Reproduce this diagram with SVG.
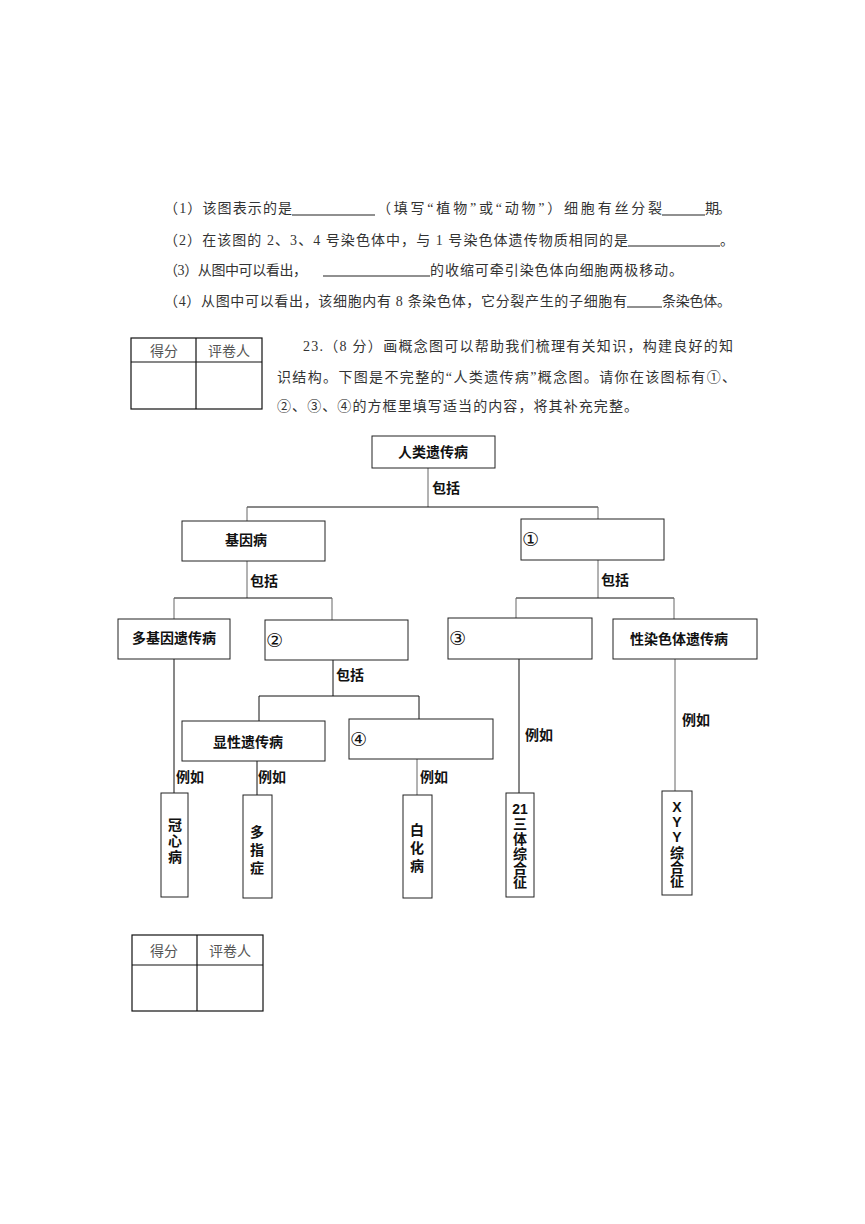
<svg xmlns="http://www.w3.org/2000/svg" width="865" height="1224" viewBox="0 0 865 1224">
<style>
.q{font-family:"Liberation Serif","Noto Sans CJK SC",serif;font-size:14px;fill:#333}
.t{font-family:"Liberation Serif","Noto Sans CJK SC",serif;font-size:14px;fill:#555;text-anchor:middle}
.n{font-family:"Liberation Sans","Noto Sans CJK SC",sans-serif;font-size:14px;font-weight:bold;fill:#111}
.num{font-family:"DejaVu Sans","Noto Sans CJK SC",sans-serif;font-size:19px;fill:#111}
.c{text-anchor:middle}
.box{fill:#fff;stroke:#222;stroke-width:1}
.tab{fill:none;stroke:#111;stroke-width:1.2}
.ul{stroke:#222;stroke-width:1.2}
.h{stroke:#111;stroke-width:1;fill:none}
.v{stroke:#666;stroke-width:1;fill:none}
</style>
<rect width="865" height="1224" fill="#fff"/>

<g id="questions">
<text class="q" x="164" y="213" textLength="128">（1）该图表示的是</text>
<line class="ul" x1="292" y1="215" x2="375" y2="215"/>
<text class="q" x="377" y="213" textLength="285">（填写“植物”或“动物”）细胞有丝分裂</text>
<line class="ul" x1="662" y1="215" x2="705" y2="215"/>
<text class="q" x="705" y="213" textLength="26">期。</text>

<text class="q" x="164" y="245" textLength="464">（2）在该图的 2、3、4 号染色体中，与 1 号染色体遗传物质相同的是</text>
<line class="ul" x1="628" y1="246" x2="720" y2="246"/>
<text class="q" x="720" y="245">。</text>

<text class="q" x="164" y="275" textLength="143">（3）从图中可以看出，</text>
<line class="ul" x1="323" y1="276" x2="430" y2="276"/>
<text class="q" x="430" y="275" textLength="253">的收缩可牵引染色体向细胞两极移动。</text>

<text class="q" x="164" y="306" textLength="463">（4）从图中可以看出，该细胞内有 8 条染色体，它分裂产生的子细胞有</text>
<line class="ul" x1="627" y1="307" x2="662" y2="307"/>
<text class="q" x="662" y="306" textLength="69">条染色体。</text>

<text class="q" x="303" y="351" textLength="430">23.（8 分）画概念图可以帮助我们梳理有关知识，构建良好的知</text>
<text class="q" x="277" y="382" textLength="459">识结构。下图是不完整的“人类遗传病”概念图。请你在该图标有①、</text>
<text class="q" x="277" y="411" textLength="361">②、③、④的方框里填写适当的内容，将其补充完整。</text>
</g>

<g id="score-table-1">
<rect class="tab" x="131" y="338" width="131" height="71"/>
<line class="tab" x1="196" y1="338" x2="196" y2="409"/>
<line class="tab" x1="131" y1="362" x2="262" y2="362"/>
<text class="t" x="164" y="356">得分</text>
<text class="t" x="229" y="356">评卷人</text>
</g>

<g id="score-table-2">
<rect class="tab" x="132" y="935" width="131" height="76"/>
<line class="tab" x1="197" y1="935" x2="197" y2="1011"/>
<line class="tab" x1="132" y1="965" x2="263" y2="965"/>
<text class="t" x="164" y="956">得分</text>
<text class="t" x="230" y="956">评卷人</text>
</g>

<g id="connectors">
<line class="v" x1="428" y1="468" x2="428" y2="507"/>
<line class="h" x1="247" y1="507" x2="598" y2="507"/>
<line class="v" x1="247" y1="507" x2="247" y2="521"/>
<line class="v" x1="598" y1="507" x2="598" y2="519"/>
<line class="v" x1="598" y1="560" x2="598" y2="598"/>
<line class="h" x1="516" y1="598" x2="674" y2="598"/>
<line class="v" x1="516" y1="598" x2="516" y2="618"/>
<line class="v" x1="674" y1="598" x2="674" y2="619"/>
<line class="v" x1="247" y1="561" x2="247" y2="598"/>
<line class="h" x1="174" y1="598" x2="332" y2="598"/>
<line class="v" x1="174" y1="598" x2="174" y2="619"/>
<line class="v" x1="332" y1="598" x2="332" y2="620"/>
<line class="h" x1="174" y1="659" x2="174" y2="793"/>
<line class="h" x1="333" y1="660" x2="333" y2="696"/>
<line class="h" x1="259" y1="696" x2="419" y2="696"/>
<line class="h" x1="259" y1="696" x2="259" y2="721"/>
<line class="h" x1="419" y1="696" x2="419" y2="719"/>
<line class="h" x1="257" y1="761" x2="257" y2="795"/>
<line class="v" x1="417" y1="759" x2="417" y2="795"/>
<line class="h" x1="519" y1="659" x2="519" y2="793"/>
<line class="v" x1="675" y1="659" x2="675" y2="791"/>
<text class="n" x="432" y="493">包括</text>
<text class="n" x="601" y="585">包括</text>
<text class="n" x="250" y="586">包括</text>
<text class="n" x="336" y="680">包括</text>
<text class="n" x="176" y="782">例如</text>
<text class="n" x="258" y="782">例如</text>
<text class="n" x="420" y="782">例如</text>
<text class="n" x="525" y="740">例如</text>
<text class="n" x="682" y="725">例如</text>
</g>

<g id="node-root">
<rect class="box" x="372" y="436" width="123" height="32"/>
<text class="n c" x="433" y="457">人类遗传病</text>
</g>
<g id="node-gene">
<rect class="box" x="182" y="521" width="143" height="40"/>
<text class="n c" x="246" y="545">基因病</text>
</g>
<g id="node-1">
<rect class="box" x="521" y="519" width="143" height="41"/>
<text class="num" x="522" y="546">①</text>
</g>
<g id="node-poly">
<rect class="box" x="118" y="619" width="112" height="40"/>
<text class="n c" x="174" y="643">多基因遗传病</text>
</g>
<g id="node-2">
<rect class="box" x="265" y="620" width="143" height="40"/>
<text class="num" x="266" y="647">②</text>
</g>
<g id="node-3">
<rect class="box" x="448" y="618" width="144" height="41"/>
<text class="num" x="449" y="645">③</text>
</g>
<g id="node-sex">
<rect class="box" x="613" y="619" width="144" height="40"/>
<text class="n c" x="679" y="644">性染色体遗传病</text>
</g>
<g id="node-dom">
<rect class="box" x="182" y="721" width="143" height="40"/>
<text class="n c" x="248" y="747">显性遗传病</text>
</g>
<g id="node-4">
<rect class="box" x="349" y="719" width="144" height="40"/>
<text class="num" x="350" y="746">④</text>
</g>
<g id="node-chd">
<rect class="box" x="161" y="793" width="27" height="104"/>
<text class="n c" x="175" y="830">冠<tspan x="175" dy="16">心</tspan><tspan x="175" dy="16">病</tspan></text>
</g>
<g id="node-poly-finger">
<rect class="box" x="243" y="795" width="29" height="103"/>
<text class="n c" x="257" y="837">多<tspan x="257" dy="18">指</tspan><tspan x="257" dy="18">症</tspan></text>
</g>
<g id="node-albinism">
<rect class="box" x="403" y="795" width="29" height="103"/>
<text class="n c" x="417" y="835">白<tspan x="417" dy="18">化</tspan><tspan x="417" dy="18">病</tspan></text>
</g>
<g id="node-21">
<rect class="box" x="506" y="793" width="28" height="104"/>
<text class="n c" x="520" y="814">21<tspan x="520" dy="15">三</tspan><tspan x="520" dy="15">体</tspan><tspan x="520" dy="15">综</tspan><tspan x="520" dy="14">合</tspan><tspan x="520" dy="14">征</tspan></text>
</g>
<g id="node-xyy">
<rect class="box" x="662" y="791" width="30" height="104"/>
<text class="n c" x="677" y="812">X<tspan x="677" dy="15">Y</tspan><tspan x="677" dy="15">Y</tspan><tspan x="677" dy="16">综</tspan><tspan x="677" dy="14">合</tspan><tspan x="677" dy="14">征</tspan></text>
</g>
</svg>
